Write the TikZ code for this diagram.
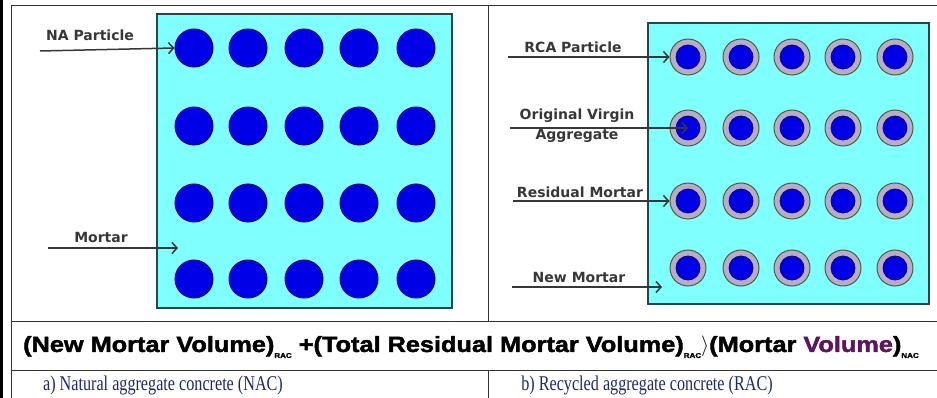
\documentclass[tikz,border=0pt]{standalone}
\usepackage{fontspec}
\usepackage{xcolor}
\usepackage{tikz}
\usetikzlibrary{arrows.meta}
\usetikzlibrary{positioning}
\setmainfont{Liberation Serif}
\newfontfamily\labelfont{DejaVu Sans}
\newfontfamily\eqfont[FakeStretch=1.15,FakeBold=2]{Liberation Sans Bold}
\newfontfamily\capfont[FakeStretch=0.77]{Liberation Serif}

\definecolor{mortarcyan}{RGB}{128,255,255}
\definecolor{boxedge}{RGB}{40,70,70}
\definecolor{coreblue}{RGB}{0,0,230}
\definecolor{coreedge}{RGB}{10,10,110}
\definecolor{ringfill}{RGB}{185,172,200}
\definecolor{ringedge}{RGB}{75,95,60}
\definecolor{labelgray}{RGB}{55,55,55}
\definecolor{capblue}{RGB}{30,40,110}
\definecolor{volpurple}{RGB}{95,20,95}

\newcommand\lowtag[1]{\raisebox{-6pt}{\fontsize{7}{7}\selectfont #1}}

\tikzset{
    natnode/.style = {circle, draw=coreedge, fill=coreblue, line width=1pt, minimum size=38pt, inner sep=0pt},
    ringnode/.style = {circle, draw=ringedge, fill=ringfill, line width=1pt, minimum size=36pt, inner sep=0pt},
    corenode/.style = {circle, draw=coreedge, fill=coreblue, line width=0.8pt, minimum size=24pt, inner sep=0pt},
    mylabel/.style = {font=\labelfont\bfseries\fontsize{14}{20}\selectfont, text=labelgray, align=center, inner sep=0pt},
    myarrow/.style = {draw=labelgray, line width=1.5pt, -{Straight Barb[length=5pt,width=11pt]}},
    gridline/.style = {draw=black!80, line width=1pt},
    caption/.style = {font=\capfont\fontsize{21}{22}\selectfont, text=capblue, inner sep=0pt},
}

\begin{document}
\begin{tikzpicture}[x=1pt, y=-1pt]
  \useasboundingbox (0,0) rectangle (937,398);

  % table frame
  \draw[line width=3pt] (1.5,0) -- (1.5,398);
  \draw[gridline] (11,398) -- (11,6) -- (937,6);
  \draw[gridline] (488,6) -- (488,321);
  \draw[gridline] (11,321) -- (937,321);
  \draw[gridline] (11,370) -- (937,370);
  \draw[gridline] (488,370) -- (488,398);

  % natural aggregate concrete
  \draw[draw=boxedge, line width=1.5pt, fill=mortarcyan] (157,14) rectangle (452,308);
  \foreach \y [count=\i] in {48,126,203,279}
    \foreach \x [count=\j] in {194,248,304,359,416}
      \node[natnode] (n\i\j) at (\x,\y) {};

  \node[mylabel] (nalab) at (90,35) {NA Particle};
  \coordinate (nastart) at (40,51);
  \draw[myarrow] (nastart) -- (n11.west);

  \node[mylabel] (mortlab) at (101,237) {Mortar};
  \coordinate (mortstart) at (48,248);
  \coordinate (mortend) at (178,248);
  \draw[myarrow] (mortstart) -- (mortend);

  % recycled aggregate concrete
  \draw[draw=boxedge, line width=1.5pt, fill=mortarcyan] (648,23) rectangle (929,304);
  \foreach \y [count=\i] in {57,128,201,268}
    \foreach \x [count=\j] in {688,741,792,843,895} {
      \node[ringnode] (r\i\j) at (\x,\y) {};
      \node[corenode] (c\i\j) at (r\i\j) {};
    }

  \node[mylabel] (rcalab) at (573,47) {RCA Particle};
  \coordinate (rcastart) at (508,57);
  \draw[myarrow] (rcastart) -- (r11.west);

  \node[mylabel] (ovalab) at (577,126) {Original Virgin\\Aggregate};
  \coordinate (ovastart) at (510,128);
  \draw[myarrow] (ovastart) -- (c21.center);

  \node[mylabel] (reslab) at (580,192) {Residual Mortar};
  \coordinate (resstart) at (513,201);
  \draw[myarrow] (resstart) -- (r31.west);

  \node[mylabel] (newlab) at (579,277) {New Mortar};
  \coordinate (newstart) at (512,287);
  \coordinate (newend) at (662,287);
  \draw[myarrow] (newstart) -- (newend);

  % volume relation
  \node[font=\eqfont\fontsize{22}{24}\selectfont, inner sep=0pt] (relation) at (471,347)
    {(New Mortar Volume)\lowtag{RAC} +(Total Residual Mortar Volume)\lowtag{RAC}$\rangle$(Mortar \textcolor{volpurple}{Volume})\lowtag{NAC}};

  % captions
  \node[caption] (capnac) at (163,385) {a) Natural aggregate concrete (NAC)};
  \node[caption] (caprac) at (647,385) {b) Recycled aggregate concrete (RAC)};
\end{tikzpicture}
\end{document}
